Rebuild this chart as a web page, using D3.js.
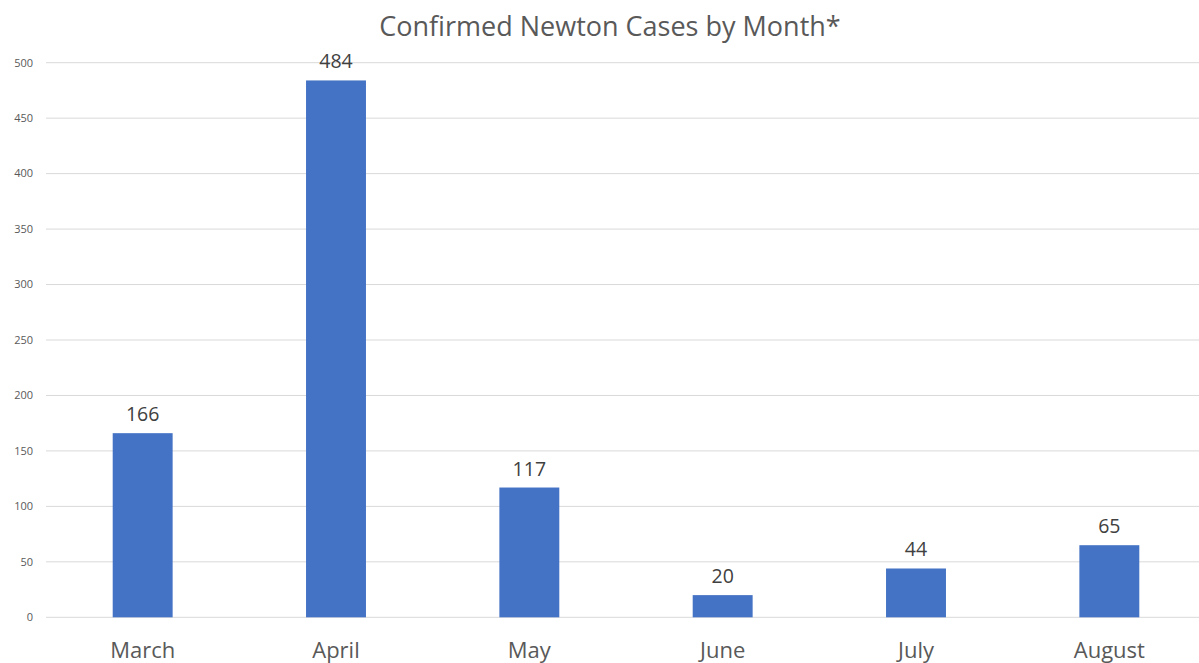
<!DOCTYPE html>
<html>
<head>
<meta charset="utf-8">
<script src="https://cdn.jsdelivr.net/npm/d3@7"></script>
<style>
  html, body { margin: 0; padding: 0; background: #fff; }
  svg { display: block; }
</style>
</head>
<body>
<svg id="chart" width="1199" height="663"></svg>
<script>
const title = "Confirmed Newton Cases by Month*";
const months = ["March", "April", "May", "June", "July", "August"];
const cases = [166, 484, 117, 20, 44, 65];
const yTicks = [0, 50, 100, 150, 200, 250, 300, 350, 400, 450, 500];

(function () {
const svg = d3.select("#chart");
const W = 1199;
const plotLeft = 46, plotRight = 1206, plotTop = 62.7, plotBottom = 617.3;

const x = d3.scaleBand().domain(months).range([plotLeft, plotRight]).paddingInner(0.69).paddingOuter(0.345);
const y = d3.scaleLinear().domain([0, 500]).range([plotBottom, plotTop]);

const font = "'Open Sans', sans-serif";

// gridlines
svg.append("g").selectAll("line").data(yTicks).join("line")
  .attr("x1", plotLeft).attr("x2", W)
  .attr("y1", d => y(d)).attr("y2", d => y(d))
  .attr("stroke", "#d9d9d9").attr("stroke-width", 1);

// y tick labels
svg.append("g").selectAll("text").data(yTicks).join("text")
  .attr("x", 33).attr("y", d => y(d)).attr("dy", "0.35em")
  .attr("text-anchor", "end")
  .attr("font-family", font).attr("font-size", 11)
  .attr("fill", "#595959")
  .text(d => d);

// bars
svg.append("g").selectAll("rect").data(months).join("rect")
  .attr("x", d => x(d)).attr("width", x.bandwidth())
  .attr("y", (d, i) => y(cases[i]))
  .attr("height", (d, i) => plotBottom - y(cases[i]))
  .attr("fill", "#4472C4");

// data labels
svg.append("g").selectAll("text").data(months).join("text")
  .attr("x", d => x(d) + x.bandwidth() / 2)
  .attr("y", (d, i) => y(cases[i]) - 12)
  .attr("text-anchor", "middle")
  .attr("font-family", font).attr("font-size", 19.5)
  .attr("fill", "#404040")
  .text((d, i) => cases[i]);

// month labels
svg.append("g").selectAll("text").data(months).join("text")
  .attr("x", d => x(d) + x.bandwidth() / 2)
  .attr("y", 658)
  .attr("text-anchor", "middle")
  .attr("font-family", font).attr("font-size", 22)
  .attr("fill", "#595959")
  .text(d => d);

// title
svg.append("text")
  .attr("x", 610).attr("y", 36)
  .attr("text-anchor", "middle")
  .attr("font-family", font).attr("font-size", 27)
  .attr("fill", "#595959")
  .text(title);
})();
</script>
</body>
</html>
